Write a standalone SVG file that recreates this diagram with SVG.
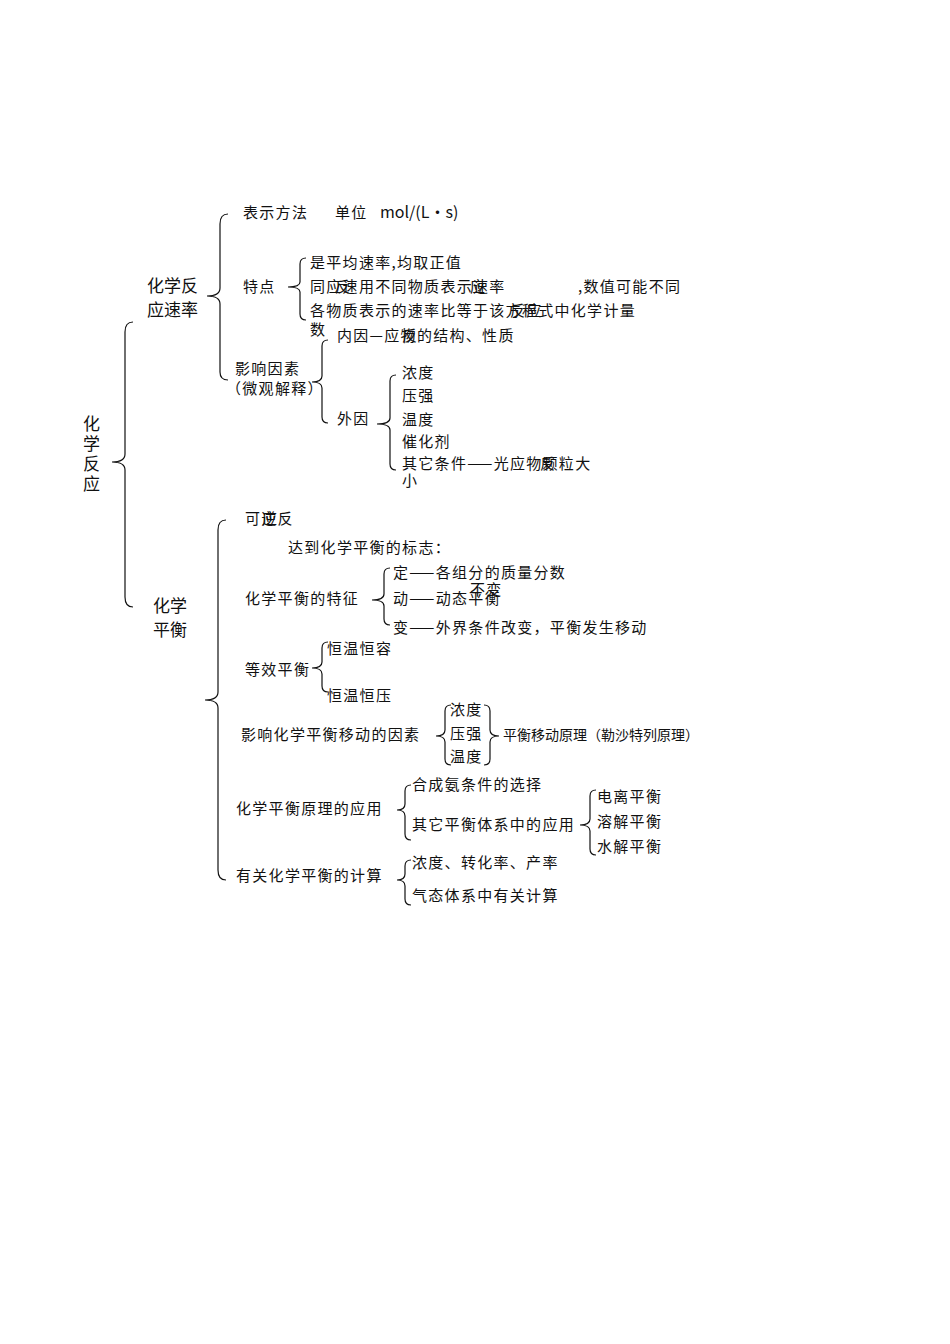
<svg xmlns="http://www.w3.org/2000/svg" width="950" height="1344" viewBox="0 0 950 1344">
<style>
text{font-family:"Noto Sans CJK SC","DejaVu Sans",sans-serif;font-size:15px;fill:#111;letter-spacing:1.3px}
.b{font-size:17px;letter-spacing:0}
.s{font-size:14px;letter-spacing:0}
path{fill:none;stroke:#111;stroke-width:1.2}
</style>
<rect width="950" height="1344" fill="#fff"/>
<g id="connectors">
<path d="M133 322 Q125 322 125 332 L125 454 Q125 462 112 462 Q125 462 125 470 L125 597 Q125 607 133 607"/>
<path d="M228 214 Q220 214 220 224 L220 288 Q220 296 207 296 Q220 296 220 304 L220 372 Q220 380 228 380"/>
<path d="M306 258 Q300 258 300 264 L300 282 Q300 287 288 287 Q300 287 300 292 L300 314 Q300 320 306 320"/>
<path d="M328 340 Q322 340 322 346 L322 376 Q322 382 312 382 Q322 382 322 388 L322 417 Q322 423 328 423"/>
<path d="M396 375 Q390 375 390 381 L390 418 Q390 424 377 424 Q390 424 390 430 L390 464 Q390 470 396 470"/>
<path d="M226 520 Q218 520 218 530 L218 692 Q218 700 205 700 Q218 700 218 708 L218 870 Q218 880 226 880"/>
<path d="M390 568 Q384 568 384 574 L384 594 Q384 600 372 600 Q384 600 384 606 L384 619 Q384 625 390 625"/>
<path d="M328 642 Q322 642 322 648 L322 662 Q322 668 312 668 Q322 668 322 674 L322 686 Q322 692 328 692"/>
<path d="M451 705 Q445 705 445 711 L445 730 Q445 736 436 736 Q445 736 445 742 L445 759 Q445 765 451 765"/>
<path d="M484 705 Q490 705 490 711 L490 730 Q490 736 499 736 Q490 736 490 742 L490 759 Q490 765 484 765"/>
<path d="M411 785 Q405 785 405 791 L405 804 Q405 810 397 810 Q405 810 405 816 L405 834 Q405 840 411 840"/>
<path d="M596 790 Q590 790 590 796 L590 819 Q590 825 580 825 Q590 825 590 831 L590 849 Q590 855 596 855"/>
<path d="M411 860 Q405 860 405 866 L405 874 Q405 880 397 880 Q405 880 405 886 L405 899 Q405 905 411 905"/>
</g>
<g id="root"><text class="b" x="83" y="430">化</text><text class="b" x="83" y="450">学</text><text class="b" x="83" y="470">反</text><text class="b" x="83" y="490">应</text></g>
<g id="rate"><text class="b" x="147" y="292">化学反</text><text class="b" x="147" y="316">应速率</text></g>
<g id="method"><text x="243" y="218">表示方法</text><text x="335" y="218">单位</text><text x="380" y="218" font-family="DejaVu Sans" style="font-size:16px;letter-spacing:0">mol/(L•s)</text></g>
<g id="feature"><text x="243" y="292">特点</text>
<text x="310" y="268">是平均速率,均取正值</text>
<text x="310" y="292">同应速用不同物质表示速率</text><text x="335" y="292">反</text><text x="470" y="292">应</text><text x="578" y="292">,数值可能不同</text>
<text x="310" y="316">各物质表示的速率比等于该方程式中化学计量</text><text x="510" y="316">反应</text>
<text x="310" y="335">数</text></g>
<g id="factor"><text x="235" y="374">影响因素</text><text x="226" y="394">（微观解释）</text>
<text x="337" y="341">内因—应物的结构、性质</text><text x="402" y="341">反</text>
<text x="337" y="424">外因</text>
<text x="402" y="378">浓度</text><text x="402" y="401">压强</text><text x="402" y="425">温度</text><text x="402" y="447">催化剂</text>
<text x="402" y="469">其它条件——光应物颗粒大</text><text x="540" y="469">反</text><text x="402" y="486">小</text></g>
<g id="eq"><text class="b" x="153" y="612">化学</text><text class="b" x="153" y="636">平衡</text></g>
<g id="rev"><text x="245" y="524">可逆反</text><text x="262" y="524">应</text><text x="288" y="553">达到化学平衡的标志：</text></g>
<g id="char"><text x="245" y="604">化学平衡的特征</text>
<text x="393" y="578">定——各组分的质量分数</text><text x="470" y="595">不变</text>
<text x="393" y="604">动——动态平衡</text><text x="393" y="633">变——外界条件改变，平衡发生移动</text></g>
<g id="equiv"><text x="245" y="675">等效平衡</text><text x="327" y="654">恒温恒容</text><text x="327" y="701">恒温恒压</text></g>
<g id="move"><text x="241" y="740">影响化学平衡移动的因素</text><text x="450" y="715">浓度</text><text x="450" y="739">压强</text><text x="450" y="762">温度</text><text class="s" x="503" y="740">平衡移动原理（勒沙特列原理）</text></g>
<g id="apply"><text x="236" y="814">化学平衡原理的应用</text><text x="412" y="790">合成氨条件的选择</text><text x="412" y="830">其它平衡体系中的应用</text>
<text x="597" y="802">电离平衡</text><text x="597" y="827">溶解平衡</text><text x="597" y="852">水解平衡</text></g>
<g id="calc"><text x="236" y="881">有关化学平衡的计算</text><text x="412" y="868">浓度、转化率、产率</text><text x="412" y="901">气态体系中有关计算</text></g>
</svg>
